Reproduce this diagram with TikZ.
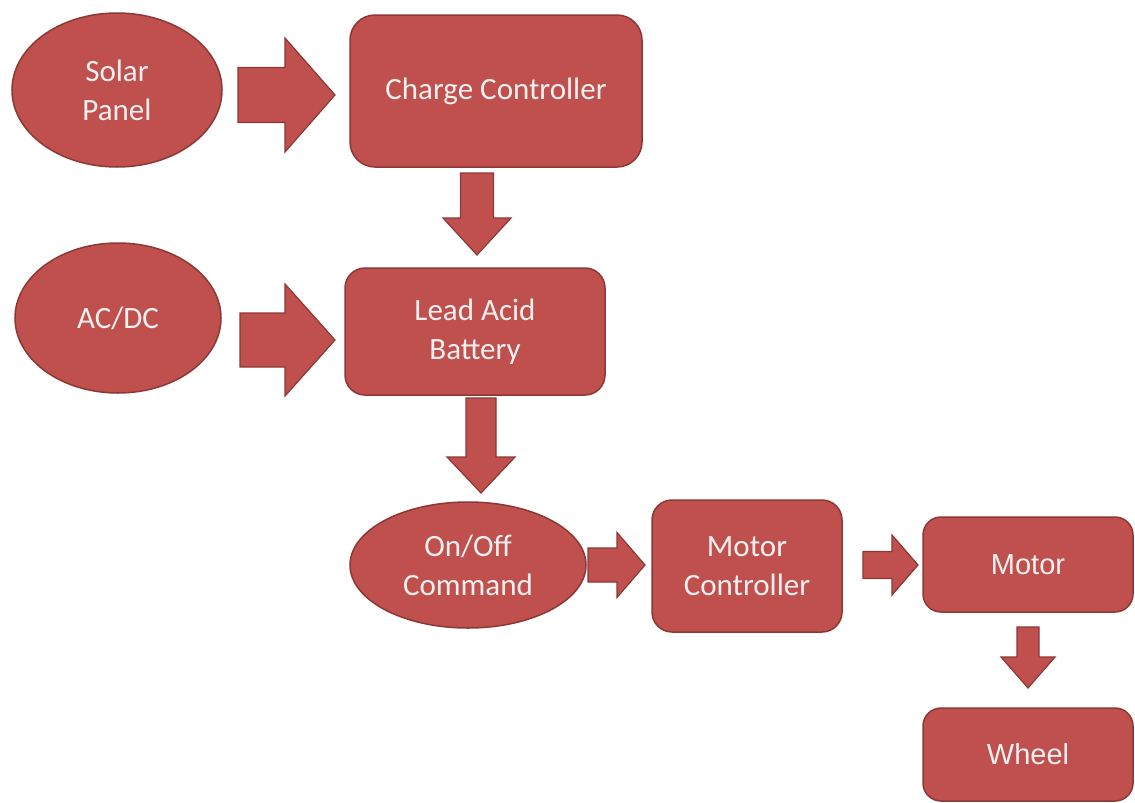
\documentclass[tikz,border=0pt]{standalone}
\usepackage{fontspec}
\setmainfont{Carlito}
\newfontfamily\arialfont{Liberation Sans}
\usetikzlibrary{shapes.geometric}
\definecolor{boxfill}{HTML}{C0504D}
\definecolor{boxline}{HTML}{8C3836}
\definecolor{txt}{HTML}{F4F0F0}
\newcommand\blkR[6]{% x0, head start, tip, cy, shaft half, head half
  \draw[barrow] (#1,#4-#5) -- (#2,#4-#5) -- (#2,#4-#6) -- (#3,#4) -- (#2,#4+#6) -- (#2,#4+#5) -- (#1,#4+#5) -- cycle;}
\newcommand\blkD[6]{% y0, head start, tip, cx, shaft half, head half
  \draw[barrow] (#4-#5,#1) -- (#4-#5,#2) -- (#4-#6,#2) -- (#4,#3) -- (#4+#6,#2) -- (#4+#5,#2) -- (#4+#5,#1) -- cycle;}
\begin{document}
\begin{tikzpicture}[x=1pt,y=-1pt,
  blk/.style={draw=boxline,line width=1.5pt,fill=boxfill,text=txt,
    font=\fontsize{31}{39}\selectfont,align=center,inner sep=0pt},
  rbox/.style={blk,rectangle,rounded corners=#1},
  ell/.style={blk,ellipse},
  small/.style={font=\arialfont\fontsize{29}{34}\selectfont},
  barrow/.style={draw=boxline,line width=1.2pt,fill=boxfill,line join=miter}]
\useasboundingbox[fill=white] (0,0) rectangle (1135,803);

\node[ell,minimum width=210,minimum height=154] (solar) at (117,90) {Solar\\Panel};
\node[rbox=25pt,minimum width=292,minimum height=152] (cc) at (496,91) {Charge Controller};
\node[ell,minimum width=206,minimum height=150] (acdc) at (118,318) {AC/DC};
\node[rbox=20pt,minimum width=260,minimum height=127] (lab) at (475,331.5) {Lead Acid\\Battery};
\node[ell,minimum width=236,minimum height=126] (onoff) at (468,565) {On/Off\\Command};
\node[rbox=20pt,minimum width=190,minimum height=132] (mc) at (747,566) {Motor\\Controller};
\node[rbox=18pt,small,minimum width=210,minimum height=95] (motor) at (1028,564.5) {Motor};
\node[rbox=18pt,small,minimum width=210,minimum height=93] (wheel) at (1028,754.5) {Wheel};

\blkR{238}{285}{335}{95}{27.5}{57}
\blkR{240}{285}{335}{340}{27}{56}
\blkD{173}{218}{255}{477}{16.5}{34}
\blkD{398}{457}{493}{481}{15}{34}
\blkR{588}{617}{645}{565}{17}{32.5}
\blkR{863}{892}{918}{565}{13.5}{30}
\blkD{627}{657}{688}{1028}{11}{27}
\end{tikzpicture}
\end{document}
